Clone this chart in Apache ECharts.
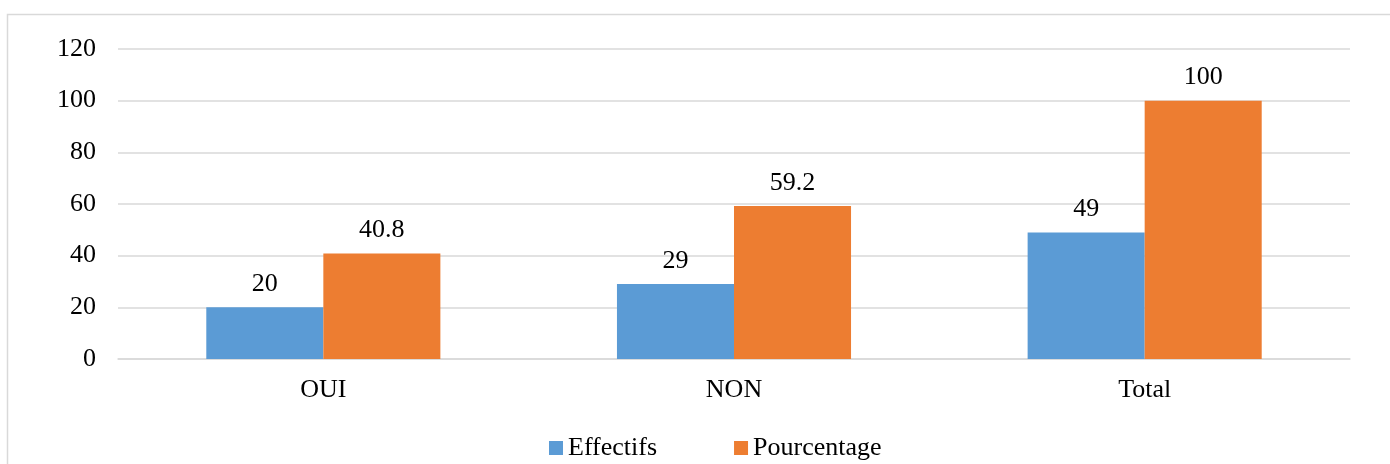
<!DOCTYPE html>
<html><head><meta charset="utf-8">
<script src="https://cdn.jsdelivr.net/npm/echarts@6/dist/echarts.min.js"></script>
<style>html,body{margin:0;padding:0;background:#fff}#c{width:1390px;height:464px}</style>
</head><body><div id="c"></div>
<script>
var categories = ['OUI', 'NON', 'Total'];
var effectifs = [20, 29, 49];
var pourcentage = [40.8, 59.2, 100];
var seriesNames = ['Effectifs', 'Pourcentage'];
var FONT = '"Liberation Serif", "Times New Roman", serif';
var chart = echarts.init(document.getElementById('c'));
chart.setOption({
  animation: false,
  textStyle: {fontFamily: FONT},
  graphic: [{type: 'rect', shape: {x: 7.5, y: 14.5, width: 1400, height: 500}, style: {fill: 'none', stroke: '#d9d9d9', lineWidth: 1.5}, silent: true}],
  grid: {left: 118, right: 40, top: 49, bottom: 105},
  legend: {
    data: seriesNames, left: 544, top: 430, itemWidth: 14, itemHeight: 14, itemGap: 77,
    icon: 'rect', textStyle: {fontFamily: FONT, fontSize: 26, color: '#000'}
  },
  xAxis: {
    type: 'category', data: categories,
    axisLine: {lineStyle: {color: '#d9d9d9', width: 1.5}}, axisTick: {show: false},
    axisLabel: {fontFamily: FONT, fontSize: 26, color: '#000', margin: 18}
  },
  yAxis: {
    type: 'value', min: 0, max: 120, interval: 20,
    axisLine: {show: false}, axisTick: {show: false},
    splitLine: {lineStyle: {color: '#d9d9d9', width: 1.5}},
    axisLabel: {fontFamily: FONT, fontSize: 26, color: '#000', margin: 22}
  },
  series: [
    {name: seriesNames[0], type: 'bar', data: effectifs, barWidth: '28.5%', barGap: '0%', itemStyle: {color: '#5B9BD5'},
     label: {show: true, position: 'top', distance: 10, fontFamily: FONT, fontSize: 26, color: '#000'}},
    {name: seriesNames[1], type: 'bar', data: pourcentage, barWidth: '28.5%', barGap: '0%', itemStyle: {color: '#ED7D31'},
     label: {show: true, position: 'top', distance: 10, fontFamily: FONT, fontSize: 26, color: '#000'}}
  ]
});
</script></body></html>
